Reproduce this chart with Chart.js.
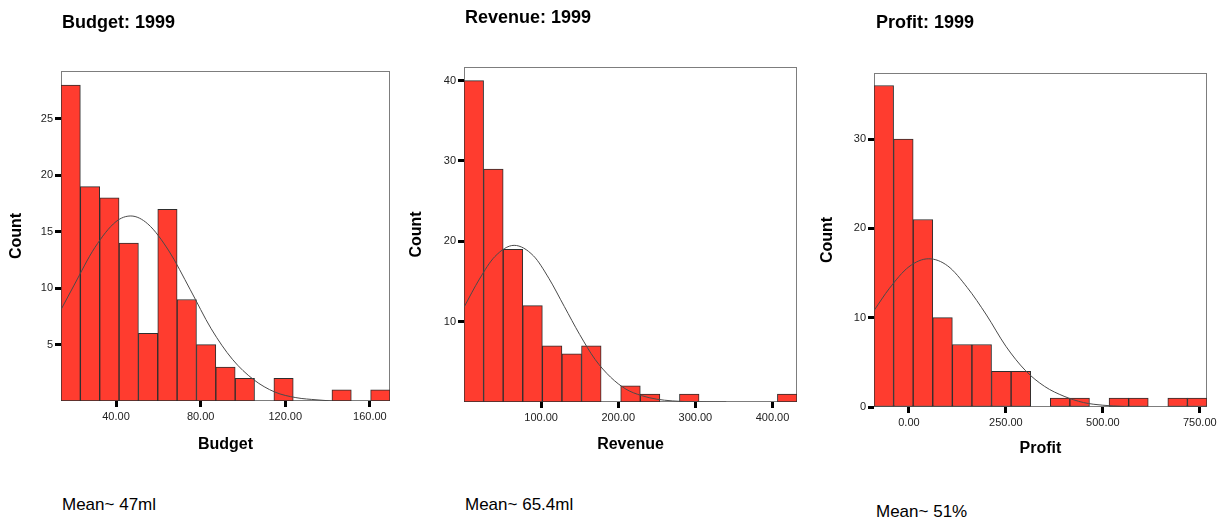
<!DOCTYPE html>
<html>
<head>
<meta charset="utf-8">
<script src="https://cdn.jsdelivr.net/npm/chart.js@4/dist/chart.umd.min.js"></script>
<style>
  body { margin: 0; background: #fff; font-family: "Liberation Sans", Arial, sans-serif; }
  #page { position: relative; width: 1220px; height: 519px; overflow: hidden; background: #fff; }
  canvas { position: absolute; top: 0; }
  .title { position: absolute; font-weight: bold; font-size: 18px; line-height: 20px; color: #000; white-space: nowrap; }
  .note { position: absolute; font-size: 17px; line-height: 20px; color: #000; white-space: nowrap; }
</style>
</head>
<body>
<div id="page">
  <canvas id="budget-chart" width="400" height="470" style="left:0"></canvas>
  <canvas id="revenue-chart" width="410" height="470" style="left:400px"></canvas>
  <canvas id="profit-chart" width="410" height="470" style="left:810px"></canvas>

  <div class="title" style="left:62px;top:12px">Budget: 1999</div>
  <div class="title" style="left:465px;top:7px">Revenue: 1999</div>
  <div class="title" style="left:876px;top:12px">Profit: 1999</div>

  <div class="note" style="left:62px;top:495px">Mean~ 47ml</div>
  <div class="note" style="left:465px;top:495px">Mean~ 65.4ml</div>
  <div class="note" style="left:876px;top:502px">Mean~ 51%</div>
</div>
<script>
// bin lower edges, counts, fitted normal curve
const budgetBins = [14.0, 23.2, 32.3, 41.5, 50.6, 59.8, 68.9, 78.1, 87.2, 96.4, 105.5, 114.7, 123.8, 133.0, 142.1, 151.3, 160.4];
const budgetCounts = [28, 19, 18, 14, 6, 17, 9, 5, 3, 2, 0, 2, 0, 0, 1, 0, 1];
const budgetCurveX = [14, 20, 30, 40, 47, 55, 65, 75, 85, 95, 105, 115, 125, 135, 142];
const budgetCurveY = [8.1, 10.2, 13.6, 15.9, 16.4, 15.7, 13.3, 9.9, 6.4, 3.7, 1.9, 0.8, 0.3, 0.1, 0.0];
const budgetXTicks = [40, 80, 120, 160];
const budgetYTicks = [5, 10, 15, 20, 25];

const revenueBins = [0, 25.4, 50.8, 76.2, 101.6, 127.0, 152.4, 177.8, 203.2, 228.6, 254.0, 279.4, 304.8, 330.2, 355.6, 381.0, 406.4];
const revenueCounts = [40, 29, 19, 12, 7, 6, 7, 0, 2, 1, 0, 1, 0, 0, 0, 0, 1];
const revenueCurveX = [0, 20, 40, 65, 90, 110, 130, 150, 170, 190, 210, 230, 250, 270, 290, 340];
const revenueCurveY = [11.8, 15.3, 18.1, 19.5, 18.2, 15.4, 11.9, 8.4, 5.3, 3.1, 1.6, 0.8, 0.35, 0.14, 0.05, 0];
const revenueXTicks = [100, 200, 300, 400];
const revenueYTicks = [10, 20, 30, 40];

const profitBins = [-90, -39.5, 11, 61.5, 112, 162.5, 213, 263.5, 314, 364.5, 415, 465.5, 516, 566.5, 617, 667.5, 718];
const profitCounts = [36, 30, 21, 10, 7, 7, 4, 4, 0, 1, 1, 0, 1, 1, 0, 1, 1];
const profitCurveX = [-90, -50, 0, 51, 100, 150, 200, 250, 300, 350, 400, 450, 500, 555];
const profitCurveY = [10.8, 13.3, 15.7, 16.6, 15.8, 13.4, 10.3, 6.8, 4.1, 2.3, 1.2, 0.5, 0.2, 0.05];
const profitXTicks = [0, 250, 500, 750];
const profitYTicks = [0, 10, 20, 30];

const colors = {
  bar: '#ff3c2f',
  barEdge: '#2e2e2e',
  curve: '#4a4a4a',
  frame: '#7d7d7d',
  tick: '#222'
};
const fontFamily = '"Liberation Sans", Arial, sans-serif';

// grey frame round the plot area, drawn under the bars
const plotFrame = {
  id: 'plotFrame',
  beforeDatasetsDraw(chart) {
    const { ctx, chartArea: a } = chart;
    ctx.save();
    ctx.strokeStyle = colors.frame;
    ctx.lineWidth = 1;
    ctx.strokeRect(a.left + 0.5, a.top + 0.5, a.right - a.left - 1, a.bottom - a.top - 1);
    ctx.restore();
  }
};

function histogram(id, o) {
  return new Chart(document.getElementById(id), {
    type: 'bar',
    data: {
      labels: o.bins.map(b => b.toFixed(1)),
      datasets: [
        {
          type: 'line',
          xAxisID: 'xv',
          data: o.curveX.map((x, i) => ({ x, y: o.curveY[i] })),
          borderColor: colors.curve,
          borderWidth: 1,
          pointRadius: 0,
          cubicInterpolationMode: 'monotone',
          order: 0
        },
        {
          xAxisID: 'x',
          data: o.counts,
          backgroundColor: colors.bar,
          borderColor: colors.barEdge,
          borderWidth: 1,
          borderSkipped: false,
          grouped: false,
          barPercentage: 1,
          categoryPercentage: 1,
          order: 1
        }
      ]
    },
    options: {
      responsive: false,
      animation: false,
      layout: { padding: { left: 0, top: o.top, right: o.padRight, bottom: o.padBottom } },
      plugins: { legend: { display: false }, tooltip: { enabled: false } },
      scales: {
        x: { type: 'category', display: false, offset: true },
        xv: {
          type: 'linear',
          position: 'bottom',
          offset: false,
          min: o.xMin,
          max: o.xMax,
          afterBuildTicks: s => { s.ticks = o.xTicks.map(v => ({ value: v })); },
          afterFit: s => { s.height = 55; },
          border: { display: false },
          grid: { offset: false, drawOnChartArea: false, drawTicks: true, tickLength: 6, tickWidth: 3, tickColor: '#000' },
          ticks: {
            color: colors.tick, padding: 3, maxRotation: 0, autoSkip: false,
            font: { family: fontFamily, size: 11 },
            callback: v => Number(v).toFixed(2)
          },
          title: {
            display: true, text: o.xTitle, color: '#000',
            font: { family: fontFamily, size: 16, weight: 'bold' },
            padding: { top: 0, bottom: o.xTitlePad }
          }
        },
        y: {
          min: 0,
          max: o.yMax,
          afterBuildTicks: s => { s.ticks = o.yTicks.map(v => ({ value: v })); },
          afterFit: s => { s.width = o.left; },
          border: { display: false },
          grid: { drawOnChartArea: false, drawTicks: true, tickLength: 6, tickWidth: 3, tickColor: '#000' },
          ticks: { color: colors.tick, padding: 2, font: { family: fontFamily, size: 11 } },
          title: {
            display: true, text: 'Count', color: '#000',
            font: { family: fontFamily, size: 16, weight: 'bold' },
            padding: { top: o.yTitlePad, bottom: 0 }
          }
        }
      }
    },
    plugins: [plotFrame]
  });
}

histogram('budget-chart', {
  bins: budgetBins, counts: budgetCounts, curveX: budgetCurveX, curveY: budgetCurveY,
  xTicks: budgetXTicks, yTicks: budgetYTicks, xMin: 14, xMax: 169.5, yMax: 29.25,
  xTitle: 'Budget', left: 61, top: 71, padRight: 10, padBottom: 14, xTitlePad: 1.4, yTitlePad: 7.4
});

histogram('revenue-chart', {
  bins: revenueBins, counts: revenueCounts, curveX: revenueCurveX, curveY: revenueCurveY,
  xTicks: revenueXTicks, yTicks: revenueYTicks, xMin: 0, xMax: 431.8, yMax: 41.7,
  xTitle: 'Revenue', left: 64, top: 67, padRight: 13, padBottom: 13, xTitlePad: 2.4, yTitlePad: 7.4
});

histogram('profit-chart', {
  bins: profitBins, counts: profitCounts, curveX: profitCurveX, curveY: profitCurveY,
  xTicks: profitXTicks, yTicks: profitYTicks, xMin: -90, xMax: 768.5, yMax: 37.4,
  xTitle: 'Profit', left: 64, top: 73, padRight: 13, padBottom: 8, xTitlePad: 3.4, yTitlePad: 8.4
});
</script>
</body>
</html>
